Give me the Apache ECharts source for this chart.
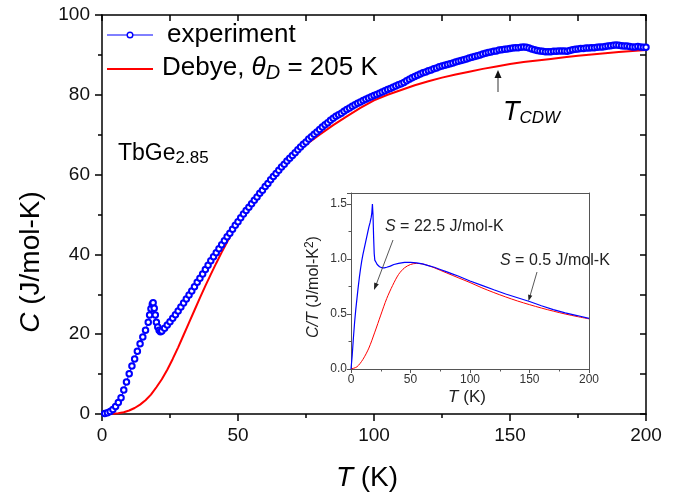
<!DOCTYPE html>
<html>
<head>
<meta charset="utf-8">
<script src="https://cdn.jsdelivr.net/npm/echarts@6/dist/echarts.min.js"></script>
<style>html,body{margin:0;padding:0;background:#fff;}#c{width:682px;height:493px;}</style>
</head>
<body>
<div id="c"></div>
<script>
// ---- main panel: experiment C(T) ----
const expT = [1,2,3,4,5,6,7,8,9,10,11,12,13,14,15,16,17,17.5,18,18.5,18.8,19.2,19.6,20,20.5,21,21.5,22,
23,24,25,26,27,28,29,30,31,32,33,34,35,36,37,38,39,40,41,42,43,44,45,46,47,48,49,50,
51,52,53,54,55,56,57,58,59,60,61,62,63,64,65,66,67,68,69,70,71,72,73,74,75,76,77,78,79,80,
81,82,83,84,85,86,87,88,89,90,91,92,93,94,95,96,97,98,99,100,
101,102,103,104,105,106,107,108,109,110,111,112,113,114,115,116,117,118,119,120,
121,122,123,124,125,126,127,128,129,130,131,132,133,134,135,136,137,138,139,140,
141,142,143,144,145,146,147,148,149,150,151,152,153,154,155,156,157,158,159,160,
161,162,163,164,165,166,167,168,169,170,171,172,173,174,175,176,177,178,179,180,
181,182,183,184,185,186,187,188,189,190,191,192,193,194,195,196,197,198,199,200];
const expC = [0.1,0.3,0.6,1.1,1.9,2.9,4.1,6.0,8.0,10.1,12.0,13.8,15.7,17.6,19.3,21.0,23.0,24.8,26.4,27.5,27.9,26.5,24.8,23.0,21.8,21.0,20.6,20.8,
21.5,22.3,23.1,24.0,24.9,25.8,26.8,27.8,28.8,29.8,30.8,31.9,33.0,34.0,35.1,36.2,37.3,38.4,39.4,40.4,41.4,42.4,43.4,44.4,45.3,46.3,47.3,48.2,
49.2,50.1,51.0,51.8,52.7,53.6,54.4,55.3,56.1,57.0,57.8,58.7,59.5,60.3,61.1,61.9,62.6,63.4,64.1,64.8,65.5,66.2,66.9,67.6,68.2,68.9,69.5,70.1,70.7,71.3,
71.9,72.5,73.0,73.6,74.1,74.6,75.0,75.4,75.9,76.3,76.7,77.1,77.5,77.9,78.2,78.6,78.9,79.2,79.5,79.8,
80.1,80.4,80.7,81.0,81.3,81.6,81.9,82.2,82.5,82.8,83.1,83.5,83.9,84.3,84.6,84.9,85.2,85.5,85.7,86.0,
86.2,86.5,86.7,87.0,87.2,87.4,87.6,87.8,88.0,88.2,88.4,88.6,88.8,89.0,89.2,89.4,89.6,89.8,90.0,90.2,
90.4,90.6,90.7,90.9,91.0,91.2,91.3,91.4,91.5,91.6,91.7,91.8,91.8,91.9,92.0,91.9,91.7,91.5,91.3,91.1,
91.0,90.9,90.8,90.8,90.8,90.9,90.9,91.0,91.0,91.0,90.9,91.1,91.3,91.4,91.5,91.6,91.6,91.7,91.7,91.8,
91.8,91.9,92.0,92.0,92.1,92.2,92.3,92.4,92.5,92.4,92.3,92.2,92.2,92.1,92.0,92.0,92.1,92.0,91.9,91.9];

// ---- main panel: Debye curve ----
const debT = [0,2,4,6,8,10,12,14,16,18,20,22,24,26,28,30,32,34,36,38,40,42,44,46,48,50,52,54,56,58,60,62,64,66,68,70,72,74,76,78,80,
85,90,95,100,105,110,115,120,125,130,135,140,145,150,155,160,165,170,175,180,185,190,195,200];
const debC = [0,0.01,0.06,0.19,0.45,0.87,1.5,2.35,3.45,4.85,6.7,8.7,11.1,13.8,16.7,19.8,22.9,26.0,29.1,32.1,35.0,37.8,40.5,43.1,45.6,47.9,50.1,52.1,54.0,55.8,57.5,59.1,60.6,62.0,63.3,64.6,65.8,66.9,68.0,69.0,70.0,
72.4,74.6,76.7,78.6,80.0,81.2,82.4,83.4,84.3,85.1,85.8,86.5,87.1,87.7,88.2,88.6,89.0,89.4,89.8,90.1,90.4,90.7,91.0,91.2];

// ---- inset: C/T ----
const insExpT = [0,1,2,3,4,5,6,7,8,9,10,11,12,13,14,15,16,17,17.5,18,18.5,19,19.5,20,21,22,23,24,26,28,30,33,36,40,45,50,55,60,65,70,75,80,85,90,100,110,120,130,140,150,160,170,180,190,200];
const insExpCT = [0,0.12,0.28,0.42,0.54,0.64,0.74,0.83,0.91,0.98,1.04,1.09,1.14,1.19,1.24,1.29,1.33,1.38,1.42,1.50,1.40,1.20,1.05,0.99,0.97,0.95,0.935,0.93,0.92,0.92,0.925,0.935,0.95,0.96,0.97,0.97,0.965,0.955,0.94,0.925,0.905,0.885,0.865,0.845,0.80,0.76,0.72,0.682,0.648,0.614,0.575,0.54,0.51,0.486,0.46];
const insDebT = [0,5,10,15,20,25,30,35,40,45,50,55,60,65,70,80,90,100,110,120,130,140,150,160,170,180,190,200];
const insDebCT = [0,0.02,0.087,0.19,0.335,0.49,0.64,0.76,0.86,0.92,0.95,0.96,0.955,0.94,0.92,0.875,0.83,0.786,0.738,0.695,0.655,0.618,0.585,0.554,0.526,0.5,0.477,0.456];

// ---- text ----
const legendNames = ['experiment', 'Debye, {i|θ}{sub|D} = 205 K'];
const sampleLabel = 'TbGe{sub|2.85}';
const cdwLabel = '{t|T}{sub|CDW}';
const entropyLow = '{i|S} = 22.5 J/mol-K';
const entropyHigh = '{i|S} = 0.5 J/mol-K';

const FF = '"Liberation Sans", Arial, sans-serif';
const zip = (a, b) => a.map((v, i) => [v, b[i]]);

const chart = echarts.init(document.getElementById('c'), null, {renderer: 'canvas'});

const blk = '#000';
const mainAxisBase = {
  axisLine: {show: true, onZero: false, lineStyle: {color: blk, width: 1.5}},
  splitLine: {show: false}
};
const insAxisBase = {
  axisLine: {show: true, onZero: false, lineStyle: {color: '#555', width: 1}},
  splitLine: {show: false}
};

chart.setOption({
  animation: false,
  backgroundColor: '#fff',
  grid: [
    {left: 102, top: 15, width: 544, height: 399},
    {left: 351, top: 193, width: 238, height: 176, show: true, backgroundColor: '#fff', borderWidth: 0, z: 5}
  ],
  xAxis: [
    Object.assign({}, mainAxisBase, {gridIndex: 0, type: 'value', position: 'bottom', min: 0, max: 200, interval: 50,
      axisTick: {show: true, inside: false, length: 7, lineStyle: {color: blk, width: 1.5}},
      minorTick: {show: true, splitNumber: 2, length: 4, lineStyle: {color: blk, width: 1.5}},
      axisLabel: {fontSize: 19, color: '#111', margin: 12, fontFamily: FF}}),
    Object.assign({}, mainAxisBase, {gridIndex: 0, type: 'value', position: 'top', min: 0, max: 200, interval: 25,
      axisTick: {show: true, inside: true, length: 6, lineStyle: {color: blk, width: 1.5}},
      axisLabel: {show: false}}),
    Object.assign({}, insAxisBase, {gridIndex: 1, type: 'value', position: 'bottom', min: 0, max: 200, interval: 50, z: 6,
      axisTick: {show: true, inside: false, length: 4, lineStyle: {color: '#555'}},
      minorTick: {show: true, splitNumber: 2, length: 2.5, lineStyle: {color: '#555'}},
      axisLabel: {fontSize: 12, color: '#333', margin: 5, fontFamily: FF}}),
    Object.assign({}, insAxisBase, {gridIndex: 1, type: 'value', position: 'top', min: 0, max: 200, z: 6,
      axisTick: {show: false}, axisLabel: {show: false}})
  ],
  yAxis: [
    Object.assign({}, mainAxisBase, {gridIndex: 0, type: 'value', position: 'left', min: 0, max: 100, interval: 20,
      axisTick: {show: true, inside: false, length: 7, lineStyle: {color: blk, width: 1.5}},
      minorTick: {show: true, splitNumber: 2, length: 4, lineStyle: {color: blk, width: 1.5}},
      axisLabel: {fontSize: 19, color: '#111', margin: 12, fontFamily: FF}}),
    Object.assign({}, mainAxisBase, {gridIndex: 0, type: 'value', position: 'right', min: 0, max: 100, interval: 10,
      axisTick: {show: true, inside: true, length: 6, lineStyle: {color: blk, width: 1.5}},
      axisLabel: {show: false}}),
    Object.assign({}, insAxisBase, {gridIndex: 1, type: 'value', position: 'left', min: 0, max: 1.6, interval: 0.5, z: 6,
      axisTick: {show: true, inside: false, length: 4, lineStyle: {color: '#555'}},
      minorTick: {show: true, splitNumber: 2, length: 2.5, lineStyle: {color: '#555'}},
      axisLabel: {fontSize: 12, color: '#333', margin: 4, fontFamily: FF, showMaxLabel: false,
        formatter: v => (Math.abs(v * 2 - Math.round(v * 2)) < 1e-6 ? v.toFixed(1) : '')}}),
    Object.assign({}, insAxisBase, {gridIndex: 1, type: 'value', position: 'right', min: 0, max: 1.6, z: 6,
      axisTick: {show: false}, axisLabel: {show: false}})
  ],
  series: [
    {type: 'line', name: 'Debye', xAxisIndex: 0, yAxisIndex: 0, data: zip(debT, debC), showSymbol: false,
      lineStyle: {color: '#ff0000', width: 2}, z: 2},
    {type: 'line', name: 'experiment', xAxisIndex: 0, yAxisIndex: 0, data: zip(expT, expC),
      symbol: 'emptyCircle', symbolSize: 5.5, showAllSymbol: true,
      itemStyle: {color: '#0000ff', borderColor: '#0000ff', borderWidth: 1.4},
      lineStyle: {color: '#0000ff', width: 1}, z: 3},
    {type: 'line', xAxisIndex: 2, yAxisIndex: 2, data: zip(insDebT, insDebCT), showSymbol: false, smooth: 0.3,
      lineStyle: {color: '#ff0000', width: 1}, z: 7},
    {type: 'line', xAxisIndex: 2, yAxisIndex: 2, data: zip(insExpT, insExpCT), showSymbol: false,
      lineStyle: {color: '#0000ff', width: 1.2}, z: 8}
  ],
  graphic: [
    // legend
    {type: 'line', shape: {x1: 107, y1: 35, x2: 153, y2: 35}, style: {stroke: '#0000ff', lineWidth: 1}, z: 20},
    {type: 'circle', shape: {cx: 130, cy: 35, r: 2.8}, style: {fill: '#fff', stroke: '#0000ff', lineWidth: 1.4}, z: 21},
    {type: 'text', x: 167, y: 35, z: 20, style: {text: legendNames[0], font: '26px ' + FF, fill: '#000', verticalAlign: 'middle'}},
    {type: 'line', shape: {x1: 107, y1: 69, x2: 153, y2: 69}, style: {stroke: '#ff0000', lineWidth: 2}, z: 20},
    {type: 'text', x: 162, y: 68, z: 20, style: {text: legendNames[1], font: '26px ' + FF, fill: '#000', verticalAlign: 'middle', lineHeight: 30,
      rich: {i: {fontStyle: 'italic', fontSize: 26, fontFamily: FF, lineHeight: 30}, sub: {fontStyle: 'italic', fontSize: 20, fontFamily: FF, lineHeight: 16, verticalAlign: 'bottom'}}}},
    // sample label
    {type: 'text', x: 118, y: 154, z: 20, style: {text: sampleLabel, font: '23px ' + FF, fill: '#000', verticalAlign: 'middle', lineHeight: 26,
      rich: {sub: {fontSize: 17, fontFamily: FF, lineHeight: 14, verticalAlign: 'bottom'}}}},
    // T_CDW
    {type: 'text', x: 503, y: 112, z: 20, style: {text: cdwLabel, font: '26px ' + FF, fill: '#000', verticalAlign: 'middle', lineHeight: 30,
      rich: {t: {fontStyle: 'italic', fontSize: 27, fontFamily: FF, lineHeight: 30}, sub: {fontStyle: 'italic', fontSize: 17, fontFamily: FF, lineHeight: 12, verticalAlign: 'bottom'}}}},
    {type: 'line', shape: {x1: 498, y1: 92, x2: 498, y2: 76}, style: {stroke: '#555', lineWidth: 1.2}, z: 20},
    {type: 'polygon', shape: {points: [[494.5, 78], [501.5, 78], [498, 70]]}, style: {fill: '#111'}, z: 20},
    // main axis titles
    {type: 'text', x: 31, y: 262, rotation: Math.PI / 2, z: 20, style: {text: '{i|C} (J/mol-K)', font: '28px ' + FF, fill: '#000', align: 'center', verticalAlign: 'middle',
      rich: {i: {fontStyle: 'italic', fontSize: 28, fontFamily: FF}}}},
    {type: 'text', x: 367, y: 478, z: 20, style: {text: '{i|T} (K)', font: '28px ' + FF, fill: '#000', align: 'center', verticalAlign: 'middle',
      rich: {i: {fontStyle: 'italic', fontSize: 28, fontFamily: FF}}}},
    // inset titles
    {type: 'text', x: 314, y: 287, rotation: Math.PI / 2, z: 20, style: {text: '{i|C/T} (J/mol-K{sup|2})', font: '16px ' + FF, fill: '#222', align: 'center', verticalAlign: 'middle', lineHeight: 20,
      rich: {i: {fontStyle: 'italic', fontSize: 16, fontFamily: FF, lineHeight: 20}, sup: {fontSize: 12, fontFamily: FF, lineHeight: 12, verticalAlign: 'top'}}}},
    {type: 'text', x: 467, y: 397, z: 20, style: {text: '{i|T} (K)', font: '17px ' + FF, fill: '#222', align: 'center', verticalAlign: 'middle',
      rich: {i: {fontStyle: 'italic', fontSize: 17, fontFamily: FF}}}},
    // inset annotations
    {type: 'text', x: 385, y: 227, z: 20, style: {text: entropyLow, font: '16px ' + FF, fill: '#222', verticalAlign: 'middle',
      rich: {i: {fontStyle: 'italic', fontSize: 16, fontFamily: FF}}}},
    {type: 'text', x: 500, y: 261, z: 20, style: {text: entropyHigh, font: '16px ' + FF, fill: '#222', verticalAlign: 'middle',
      rich: {i: {fontStyle: 'italic', fontSize: 16, fontFamily: FF}}}},
    {type: 'line', shape: {x1: 393, y1: 240, x2: 376, y2: 285}, style: {stroke: '#444', lineWidth: 0.9}, z: 20},
    {type: 'polygon', shape: {points: [[374, 290], [378.8, 284.3], [374.2, 282.6]]}, style: {fill: '#222'}, z: 20},
    {type: 'line', shape: {x1: 537, y1: 272, x2: 530, y2: 296}, style: {stroke: '#444', lineWidth: 0.9}, z: 20},
    {type: 'polygon', shape: {points: [[528.5, 301], [532.3, 295.8], [528.1, 294.6]]}, style: {fill: '#222'}, z: 20}
  ]
});
</script>
</body>
</html>
